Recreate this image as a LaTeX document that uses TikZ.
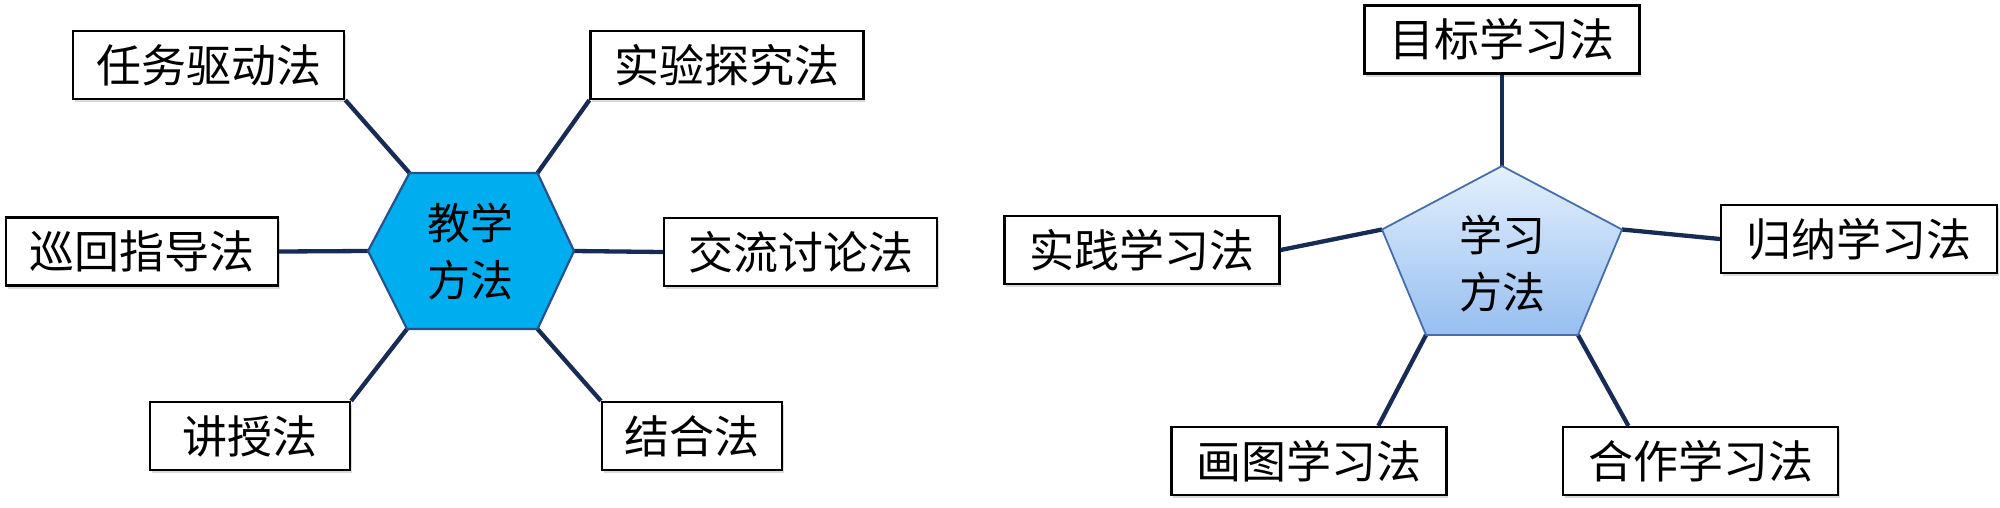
\documentclass[tikz,border=0pt]{standalone}
\usepackage{fontspec}
\newfontfamily\cjk{Noto Sans CJK SC}
\usetikzlibrary{shadows,calc}
\definecolor{conncol}{RGB}{23,43,84}
\definecolor{hexfill}{RGB}{0,174,239}
\definecolor{hexline}{RGB}{40,80,140}
\definecolor{pentop}{RGB}{228,240,253}
\definecolor{penbot}{RGB}{150,190,240}
\definecolor{penline}{RGB}{70,110,170}
\tikzset{
  box/.style={draw=black, line width=2.2pt, fill=white, inner sep=0pt,
    minimum height=68pt, font=\cjk\fontsize{45}{52}\selectfont,
    drop shadow={shadow xshift=1.5pt, shadow yshift=-3pt, opacity=0.3, fill=gray}},
  conn/.style={draw=conncol, line width=4.3pt},
  ctext/.style={font=\cjk\fontsize{43}{57}\selectfont, align=center, inner sep=0pt}
}
\begin{document}
\begin{tikzpicture}[x=1pt,y=-1pt]
\useasboundingbox (0,0) rectangle (2000,507);
% ---- left: teaching methods
\node[box, minimum width=271pt] (t1) at (208.8,65) {任务驱动法};
\node[box, minimum width=273pt] (t2) at (727,65) {实验探究法};
\node[box, minimum width=272pt] (t3) at (142,251.5) {巡回指导法};
\node[box, minimum width=273pt] (t4) at (800.5,252) {交流讨论法};
\node[box, minimum width=200pt] (t5) at (250,436) {讲授法};
\node[box, minimum width=180pt] (t6) at (692,436) {结合法};
\coordinate (hTL) at (409.5,173);
\coordinate (hTR) at (537.5,173);
\coordinate (hR) at (574,251);
\coordinate (hBR) at (537.5,329);
\coordinate (hBL) at (407,329);
\coordinate (hL) at (368,251);
\draw[conn] (t1.south east) -- (hTL);
\draw[conn] (t2.south west) -- (hTR);
\draw[conn] (t3.east) -- (hL);
\draw[conn] (t4.west) -- (hR);
\draw[conn] (t5.north east) -- (hBL);
\draw[conn] (t6.north west) -- (hBR);
\draw[fill=hexfill, draw=hexline, line width=2.2pt, line join=round]
  (hTL) -- (hTR) -- (hR) -- (hBR) -- (hBL) -- (hL) -- cycle;
\node[ctext] (hex) at (470,252) {教学\\方法};
% ---- right: learning methods
\node[box, minimum width=275pt] (l1) at (1502,39.5) {目标学习法};
\node[box, minimum width=275pt] (l2) at (1142,250) {实践学习法};
\node[box, minimum width=276pt] (l3) at (1859,239) {归纳学习法};
\node[box, minimum width=275pt] (l4) at (1309,461) {画图学习法};
\node[box, minimum width=275pt] (l5) at (1700.5,461) {合作学习法};
\coordinate (pT) at (1502,166);
\coordinate (pR) at (1622,229.5);
\coordinate (pBR) at (1578,335);
\coordinate (pBL) at (1426,335);
\coordinate (pL) at (1382,229.5);
\draw[conn] (l1.south) -- (pT);
\draw[conn] (l2.east) -- (pL);
\draw[conn] (l3.west) -- (pR);
\draw[conn] ($(l4.north west)!0.75!(l4.north east)$) -- (pBL);
\draw[conn] ($(l5.north west)!0.24!(l5.north east)$) -- (pBR);
\draw[top color=pentop, bottom color=penbot, draw=penline, line width=1.8pt, line join=round]
  (pT) -- (pR) -- (pBR) -- (pBL) -- (pL) -- cycle;
\node[ctext] (pen) at (1502,264) {学习\\方法};
\end{tikzpicture}
\end{document}
